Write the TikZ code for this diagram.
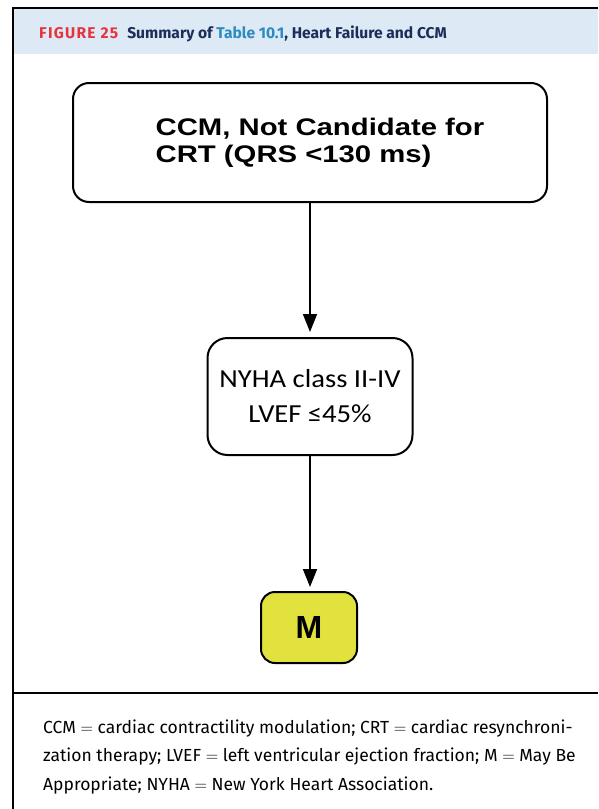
\documentclass[tikz,border=0pt]{standalone}
\usepackage{fontspec}
\setmainfont{Fira Sans}
\newfontfamily\arialb[FakeStretch=1.22]{Liberation Sans Bold}
\newfontfamily\mfont{Liberation Sans Bold}
\newfontfamily\calib[FakeStretch=1.1]{Carlito}
\usetikzlibrary{arrows.meta}
\definecolor{headbg}{HTML}{DDE9F5}
\definecolor{figred}{HTML}{E5343D}
\definecolor{navy}{HTML}{1B2D59}
\definecolor{tabblue}{HTML}{2C8BBF}
\definecolor{myellow}{HTML}{E2E23E}
\tikzset{
  flowbox/.style={draw=black,line width=2pt,rounded corners=16pt,fill=white,inner sep=0pt},
  flowarrow/.style={line width=1.6pt,-{Triangle[width=14pt,length=18pt]}}
}
\begin{document}
\begin{tikzpicture}[x=1pt,y=-1pt]
\useasboundingbox (0,0) rectangle (598,809);
% frame begin
\fill[headbg] (13,9) rectangle (598,54);
\draw[line width=2pt] (598,8) -- (12.5,8) -- (12.5,809);
\draw[line width=1.5pt] (12.5,693) -- (598,693);
% frame end
\node[anchor=base west,inner sep=0pt,font=\fontsize{15.6}{18}\selectfont\bfseries] (title) at (39,38)
  {\textcolor{figred}{\addfontfeature{LetterSpace=8}FIGURE 25}\hspace{9pt}\textcolor{navy}{Summary of \textcolor{tabblue}{Table 10.1}, Heart Failure and CCM}};
% boxes
\node[flowbox,minimum width=474pt,minimum height=119pt,align=left,font=\arialb\fontsize{24}{27}\selectfont] (ccm) at (310,142.5)
  {\hspace*{20pt}CCM, Not Candidate for\\\hspace*{20pt}CRT (QRS <130 ms)};
\node[flowbox,rounded corners=20pt,minimum width=205pt,minimum height=117pt,align=center,font=\calib\fontsize{26}{35}\selectfont] (nyha) at (310,396.5)
  {NYHA class II-IV\\LVEF ≤45\%};
\node[flowbox,rounded corners=14pt,fill=myellow,minimum width=96pt,minimum height=71pt,font=\mfont\fontsize{32}{34}\selectfont] (mbox) at (309,627.5) {M};
\draw[flowarrow,shorten >=5pt] (ccm.south) -- (nyha.north);
\draw[flowarrow,shorten >=4pt] (nyha.south) -- (mbox.north -| nyha.south);
% caption
\node[anchor=base west,inner sep=0pt,align=left,font=\fontsize{17.5}{28.5}\selectfont] (caption) at (43,790)
  {CCM $=$ cardiac contractility modulation; CRT $=$ cardiac resynchroni-\\
   zation therapy; LVEF $=$ left ventricular ejection fraction; M $=$ May Be\\
   Appropriate; NYHA $=$ New York Heart Association.};
\end{tikzpicture}
\end{document}
